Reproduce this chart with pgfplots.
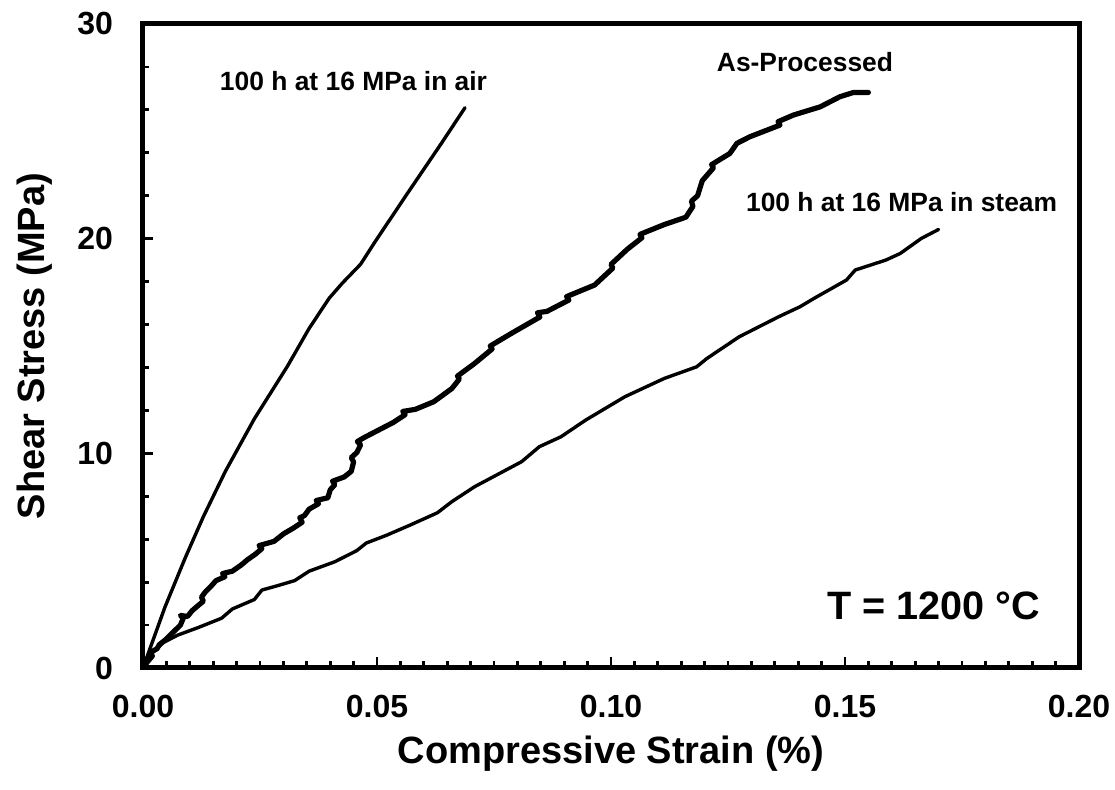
\documentclass[border=0pt]{standalone}
\usepackage{fontspec}
\setmainfont{Liberation Sans}
\usepackage{pgfplots}
\pgfplotsset{compat=1.18}
\begin{document}
\begin{tikzpicture}
\useasboundingbox (-71.5pt,-61pt) rectangle (486pt,334pt);
\begin{axis}[
  at={(0,0)}, anchor=south west,
  width=468pt, height=322pt, scale only axis,
  xmin=0, xmax=0.2, ymin=0, ymax=30,
  xtick={0,0.05,0.1,0.15,0.2},
  xticklabels={0.00,0.05,0.10,0.15,0.20},
  ytick={0,10,20,30}, yticklabels={0,10,20,30},
  minor x tick num=9, minor y tick num=4,
  tick align=inside, xtick pos=bottom, ytick pos=left,
  major tick length=5.25pt, minor tick length=3.25pt,
  tick style={line width=1.4pt, black},
  axis line style={line width=2.5pt},
  ticklabel style={font=\bfseries\fontsize{16}{18}\selectfont},
  xticklabel style={yshift=-10pt},
  yticklabel style={xshift=-11.5pt},
  xlabel={Compressive Strain (\%)}, ylabel={Shear Stress (MPa)},
  every axis x label/.style={at={(axis description cs:0.5,-0.149)}, anchor=base, font=\bfseries\fontsize{19}{22}\selectfont},
  every axis y label/.style={at={(axis description cs:-0.1047,0.5)}, anchor=base, rotate=90, font=\bfseries\fontsize{19}{22}\selectfont},
]
% 100 h at 16 MPa in air
\addplot[black, line width=1.7pt, line join=round, line cap=round] coordinates {
(0,0) (0.0047,2.84) (0.0090,5.12) (0.0129,7.05) (0.0176,9.16) (0.0238,11.61)
(0.0309,14.07) (0.0355,15.82) (0.0398,17.23) (0.0426,17.93) (0.0465,18.81)
(0.0496,19.86) (0.0566,22.14) (0.0637,24.42) (0.0688,26.10)
};
% 100 h at 16 MPa in steam
\addplot[black, line width=1.7pt, line join=round, line cap=round] coordinates {
(0,0) (0.0015,0.6) (0.0043,1.18) (0.0074,1.53) (0.0120,1.90) (0.0168,2.32)
(0.0191,2.75) (0.0238,3.19) (0.0254,3.63) (0.0290,3.85) (0.0324,4.07)
(0.0355,4.51) (0.0410,4.95) (0.0457,5.47) (0.0477,5.82) (0.0520,6.18)
(0.0570,6.65) (0.0629,7.23) (0.0660,7.75) (0.0709,8.45) (0.0809,9.61)
(0.0847,10.31) (0.0893,10.77) (0.0946,11.55) (0.1030,12.64) (0.1114,13.49)
(0.1183,14.03) (0.1205,14.42) (0.1274,15.43) (0.1358,16.36) (0.1404,16.83)
(0.1434,17.22) (0.1503,18.07) (0.1522,18.54) (0.1587,19.00) (0.1618,19.31)
(0.1663,20.01) (0.1700,20.43)
};
% As-Processed
\addplot[black, line width=2.6pt, line join=round, line cap=round] coordinates {
(0,0) (0.0010,0.30) (0.0020,0.56) (0.0014,0.70) (0.0030,0.90) (0.0035,1.09) (0.0050,1.35)
(0.0066,1.70) (0.0080,2.00) (0.0086,2.32) (0.0080,2.45) (0.0095,2.40) (0.0105,2.67)
(0.0120,2.95) (0.0129,3.11) (0.0125,3.30) (0.0133,3.54) (0.0145,3.80)
(0.0156,4.07) (0.0175,4.25) (0.0170,4.40) (0.0191,4.51) (0.0210,4.80) (0.0223,5.04)
(0.0240,5.30) (0.0254,5.56) (0.0248,5.70) (0.0280,5.90) (0.0301,6.26) (0.0320,6.50)
(0.0340,6.79) (0.0335,7.00) (0.0345,7.10) (0.0355,7.40) (0.0375,7.65) (0.0370,7.80) (0.0395,7.93)
(0.0400,8.30) (0.0410,8.54) (0.0405,8.70) (0.0430,8.90) (0.0445,9.16) (0.0450,9.60)
(0.0445,9.80) (0.0457,10.04) (0.0465,10.40) (0.0458,10.55) (0.0473,10.74) (0.0496,11.00) (0.0535,11.44)
(0.0560,11.80) (0.0555,11.95) (0.0582,12.05) (0.0621,12.40) (0.0640,12.70) (0.0660,13.02)
(0.0676,13.46) (0.0672,13.60) (0.0707,14.16) (0.0746,14.86) (0.0742,15.00) (0.0785,15.56) (0.0848,16.35)
(0.0843,16.55) (0.0863,16.61) (0.0910,17.14) (0.0905,17.30) (0.0965,17.84) (0.1004,18.63) (0.1000,18.80) (0.1035,19.51)
(0.1066,20.04) (0.1062,20.20) (0.1113,20.65) (0.1160,21.00) (0.1175,21.50) (0.1172,21.75) (0.1185,22.00)
(0.1195,22.70) (0.1219,23.30) (0.1215,23.45) (0.1254,23.97) (0.1269,24.44) (0.1297,24.75)
(0.1361,25.29) (0.1357,25.45) (0.1390,25.76) (0.1447,26.14) (0.1489,26.61) (0.1518,26.81)
(0.1550,26.81)
};
\node[anchor=base, font=\bfseries\fontsize{13.2}{15}\selectfont] at (axis cs:0.04498,26.92) {100 h at 16 MPa in air};
\node[anchor=base, font=\bfseries\fontsize{13.2}{15}\selectfont] at (axis cs:0.14145,27.77) {As-Processed};
\node[anchor=base, font=\bfseries\fontsize{13.2}{15}\selectfont] at (axis cs:0.1621,21.25) {100 h at 16 MPa in steam};
\node[anchor=base, font=\bfseries\fontsize{19.8}{22}\selectfont] at (axis cs:0.1689,2.28) {T = 1200 °C};
\end{axis}
\end{tikzpicture}
\end{document}
